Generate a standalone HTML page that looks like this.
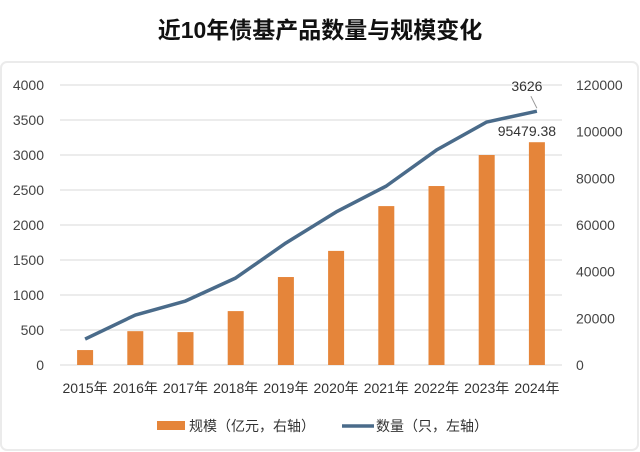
<!DOCTYPE html>
<html><head><meta charset="utf-8"><style>
body{margin:0;background:#fff;font-family:"Liberation Sans","Noto Sans CJK SC",sans-serif;}
#wrap{position:relative;width:640px;height:452px;overflow:hidden;background:#fff}
</style></head><body>
<div id="wrap">
<svg id="chart" width="640" height="452"></svg>
</div>
<script>
const categories=["2015年","2016年","2017年","2018年","2019年","2020年","2021年","2022年","2023年","2024年"];
const scaleValues=[6400,14500,14100,23100,37700,48900,68100,76700,90000,95479.38];
const countValues=[371,714,914,1243,1743,2186,2557,3071,3471,3626];
const leftTicks=[0,500,1000,1500,2000,2500,3000,3500,4000];
const rightTicks=[0,20000,40000,60000,80000,100000,120000];
const NS="http://www.w3.org/2000/svg";
const svg=document.getElementById('chart');
function mk(t,a,txt){const e=document.createElementNS(NS,t);for(const k in a)e.setAttribute(k,a[k]);if(txt!==undefined)e.textContent=txt;svg.appendChild(e);return e;}
const X0=60,X1=562,Y0=365,Y1=85;
const step=(X1-X0)/categories.length;
const xc=i=>X0+step*(i+0.5);
const yL=v=>Y0-(v/4000)*(Y0-Y1);
const yR=v=>Y0-(v/120000)*(Y0-Y1);
let e;
e=mk('rect',{x:1,y:62,width:637,height:388,rx:6,fill:'none',stroke:'#ebebeb','stroke-width':2});


e=mk('text',{x:320,y:38,'text-anchor':'middle','font-size':23,'font-weight':'bold',fill:'#111'},'近10年债基产品数量与规模变化');


leftTicks.forEach(v=>{
 e=mk('line',{x1:X0,x2:X1,y1:yL(v),y2:yL(v),stroke:'#d9d9d9','stroke-width':1});
 
 
 e=mk('text',{x:44,y:yL(v)+5,'text-anchor':'end','font-size':14,fill:'#444'},String(v));
 
 
});
rightTicks.forEach(v=>{
 e=mk('text',{x:576,y:yR(v)+5,'text-anchor':'start','font-size':14,fill:'#444'},String(v));
 
 
});
categories.forEach((c,i)=>{
 e=mk('text',{x:xc(i),y:393,'text-anchor':'middle','font-size':14,fill:'#333'},c);
 
 
 e=mk('rect',{x:xc(i)-8,y:yR(scaleValues[i]),width:16,height:Y0-yR(scaleValues[i]),fill:'#e5853a'});
 
 
});
e=mk('polyline',{points:countValues.map((v,i)=>xc(i)+','+yL(v)).join(' '),fill:'none',stroke:'#4a6b8a','stroke-width':3.5,'stroke-linejoin':'round'});


const li=categories.length-1;
e=mk('text',{x:xc(li)-10,y:yL(countValues[li])-20,'text-anchor':'middle','font-size':14,fill:'#333'},String(countValues[li]));


e=mk('line',{x1:xc(li)-6,y1:yL(countValues[li])-15,x2:xc(li),y2:yL(countValues[li])-3,stroke:'#999','stroke-width':1});


e=mk('text',{x:xc(li)-10,y:yR(scaleValues[li])-6,'text-anchor':'middle','font-size':14,fill:'#333'},String(scaleValues[li]));


e=mk('rect',{x:157,y:421,width:28,height:9,fill:'#e5853a'});


e=mk('text',{x:189,y:431,'font-size':14,fill:'#333'},'规模（亿元，右轴）');


e=mk('line',{x1:342,x2:374,y1:426,y2:426,stroke:'#4a6b8a','stroke-width':3.5});


e=mk('text',{x:376,y:431,'font-size':14,fill:'#333'},'数量（只，左轴）');


</script>
</body></html>
